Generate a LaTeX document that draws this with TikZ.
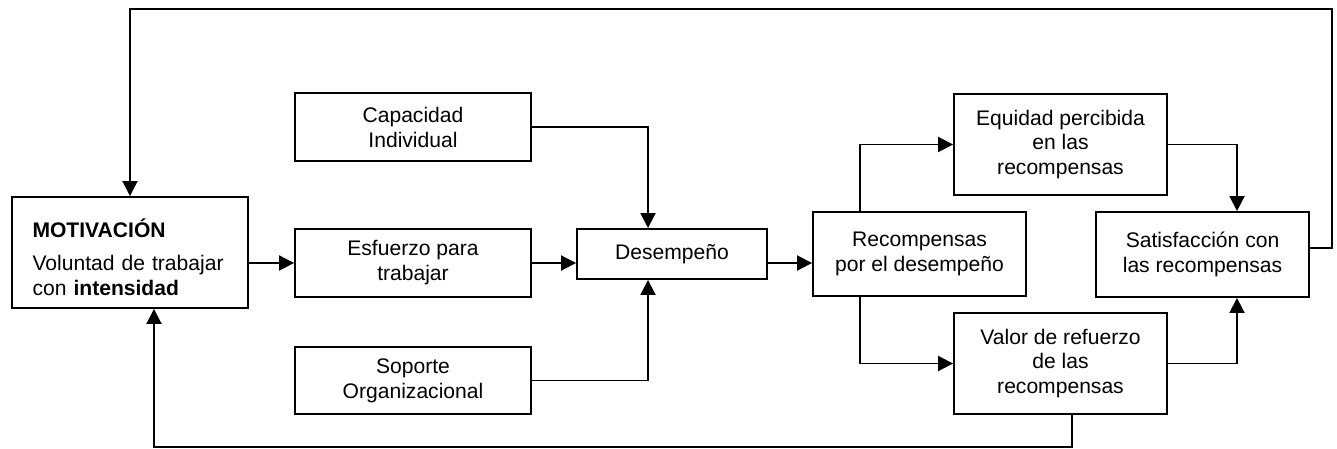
\documentclass[tikz,border=0pt]{standalone}
\usepackage{fontspec}
\setmainfont{Liberation Sans}
\usetikzlibrary{arrows.meta}

\begin{document}
\begin{tikzpicture}[
  x=0.02cm, y=-0.02cm,
  factor/.style={draw, line width=1.1pt, minimum width=4.72cm,
                 minimum height=1.36cm, inner sep=0pt, align=center,
                 font=\fontsize{12}{14.2}\selectfont},
  reward/.style={factor, minimum width=4.26cm},
  motiv/.style ={factor, minimum height=2.22cm, text width=3.9cm, align=left},
  arr/.style   ={-{Triangle[length=0.3cm,width=0.3cm]}, line width=1.1pt}]

\useasboundingbox (0,0) rectangle (1337,449);

\node[motiv]  (mot) at (130,252.5) {\rule{0pt}{0.55cm}\textbf{MOTIVACIÓN}\\[0.16cm]Voluntad de trabajar\\con \textbf{intensidad}};
\node[factor] (cap) at (413,127)   {Capacidad\\Individual};
\node[factor] (esf) at (413,263)   {Esfuerzo para\\trabajar};
\node[factor, minimum height=1.34cm] (sop) at (413,380.5) {Soporte\\Organizacional};
\node[factor, minimum width=3.8cm, minimum height=1cm] (des) at (672,254) {Desempeño};
\node[reward, minimum height=1.68cm] (rec) at (919.5,254)    {Recompensas\\por el desempeño};
\node[reward, minimum height=2.02cm] (equ) at (1060.5,144.5) {Equidad percibida\\en las\\recompensas};
\node[reward, minimum height=2.02cm] (val) at (1060.5,363.5) {Valor de refuerzo\\de las\\recompensas};
\node[reward, minimum height=1.7cm]  (sat) at (1202.5,254.5) {Satisfacción con\\las recompensas};

% feedback corners
\coordinate (topR) at (1332,9);
\coordinate (botL) at (154,447);

\draw[arr] (mot.east |- esf.west) -- (esf.west);
\draw[arr] (esf.east) -- (esf.east -| des.west);
\draw[arr] (cap.east) -| ([xshift=-0.48cm]des.north);
\draw[arr] (sop.east) -| ([xshift=-0.48cm]des.south);
\draw[arr] (esf.east -| des.east) -- (esf.east -| rec.west);
\draw[arr] ([xshift=-1.19cm]rec.north) |- (equ.west);
\draw[arr] ([xshift=-1.19cm]rec.south) |- (val.west);
\draw[arr] (equ.east) -| ([xshift=0.69cm]sat.north);
\draw[arr] (val.east) -| ([xshift=0.69cm]sat.south);
\draw[arr] ([yshift=0.13cm]sat.east) -| (topR) -| (mot.north);
\draw[arr] ([xshift=0.23cm]val.south) |- (botL) -- ([xshift=0.48cm]mot.south);
\end{tikzpicture}
\end{document}
